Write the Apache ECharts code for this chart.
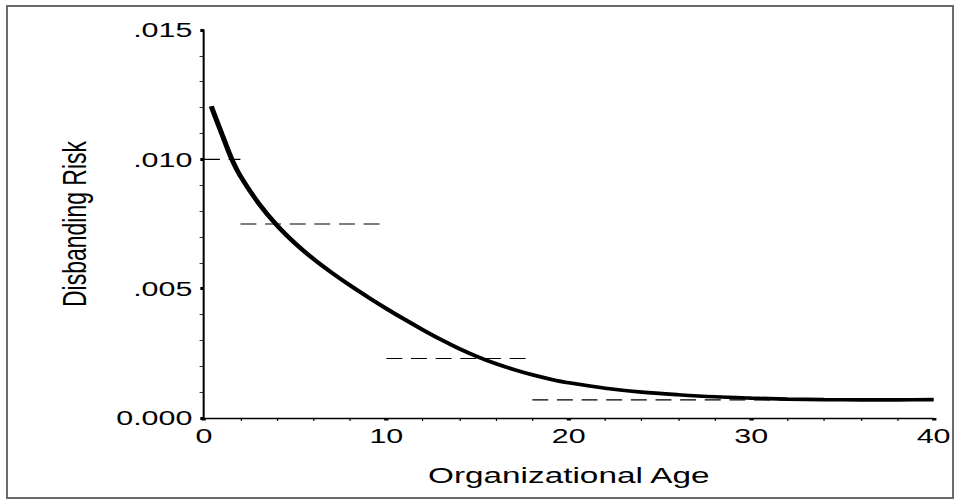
<!DOCTYPE html>
<html>
<head>
<meta charset="utf-8">
<script src="https://cdn.jsdelivr.net/npm/echarts@6/dist/echarts.min.js"></script>
<style>
  html, body { margin: 0; padding: 0; background: #fff; overflow: hidden; }
  #frame { position: absolute; left: 6px; top: 5px; width: 944px; height: 490px; border: 2px solid #6a6a6a; }
  #chart { position: absolute; left: 0; top: 0; width: 663px; height: 501px; transform: scaleX(1.4495); transform-origin: 0 0; }
</style>
</head>
<body>
<div id="frame"></div>
<div id="chart"></div>
<script>
// Fitted hazard curve (organizational age, disbanding risk)
const curveAge  = [0.4, 1, 1.5, 2, 3, 4, 5, 6, 7, 8, 9, 10, 11, 12, 13, 14, 15, 16, 17, 18, 19, 20, 22, 24, 26, 28, 30, 32, 34, 36, 38, 40];
const curveRisk = [0.01205, 0.01095, 0.01005, 0.00935, 0.0083, 0.00745, 0.00675, 0.00615, 0.00562, 0.00513, 0.00467, 0.00423, 0.00381, 0.00341, 0.00303, 0.00268, 0.00237, 0.0021, 0.00187, 0.00167, 0.0015, 0.00136, 0.00115, 0.001, 0.0009, 0.00082, 0.00077, 0.00073, 0.00071, 0.0007, 0.0007, 0.00071];
// Piecewise-constant estimates (dashed)
const stepStart = [0, 2, 10, 18];
const stepEnd   = [2, 10, 18, 40];
const stepRisk  = [0.0100, 0.0075, 0.0023, 0.0007];
// Axis tick labels
const yTickLabels = ['0.000', '.005', '.010', '.015'];
const xTickLabels = ['0', '10', '20', '30', '40'];

const chart = echarts.init(document.getElementById('chart'), null, { renderer: 'svg' });

const fontFam = '"Liberation Sans", Arial, sans-serif';

const stepSeries = stepRisk.map((v, i) => ({
  type: 'line',
  data: [[stepStart[i], v], [stepEnd[i], v]],
  symbol: 'none',
  lineStyle: { color: '#000', width: 1.2, type: [11, 6] },
  z: 2,
  silent: true
}));

const option = {
  animation: false,
  backgroundColor: 'transparent',
  grid: { left: 140.7, right: 18.9, top: 30, bottom: 83 },
  xAxis: {
    type: 'value', min: 0, max: 40, interval: 10,
    name: 'Organizational Age', nameLocation: 'middle', nameGap: 45,
    nameTextStyle: { fontFamily: fontFam, fontSize: 23, color: '#000' },
    axisLine: { show: true, onZero: false, lineStyle: { color: '#000', width: 1.3 } },
    axisTick: { show: true, inside: false, length: 2.5, lineStyle: { color: '#000', width: 3 } },
    minorTick: { show: true, splitNumber: 5, length: 3, lineStyle: { color: '#000', width: 0.8 } },
    splitLine: { show: false },
    axisLabel: { fontFamily: fontFam, fontSize: 21, color: '#000', margin: 7,
      formatter: v => xTickLabels[Math.round(v / 10)] }
  },
  yAxis: {
    type: 'value', min: 0, max: 0.015, interval: 0.005,
    name: 'Disbanding Risk', nameLocation: 'middle', nameGap: 78,
    nameTextStyle: { fontFamily: fontFam, fontSize: 23, color: '#000' },
    axisLine: { show: true, onZero: false, lineStyle: { color: '#000', width: 1.4 } },
    axisTick: { show: true, inside: false, length: 2.5, lineStyle: { color: '#000', width: 3 } },
    minorTick: { show: true, splitNumber: 5, length: 3, lineStyle: { color: '#000', width: 0.8 } },
    splitLine: { show: false },
    axisLabel: { fontFamily: fontFam, fontSize: 21, color: '#000', margin: 8,
      formatter: v => yTickLabels[Math.round(v / 0.005)] }
  },
  series: stepSeries.concat([{
    type: 'line',
    data: curveAge.map((a, i) => [a, curveRisk[i]]),
    symbol: 'none',
    smooth: 0.3,
    lineStyle: { color: '#000', width: 3.6 },
    z: 3,
    silent: true
  }])
};

chart.setOption(option);
</script>
</body>
</html>
